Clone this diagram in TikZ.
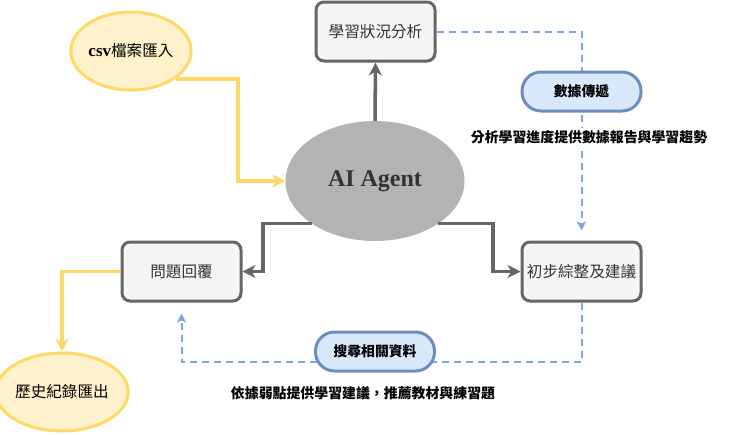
\documentclass[tikz,border=0pt]{standalone}
\usepackage{fontspec}
\setmainfont{Liberation Serif}
\newfontfamily\cjk{Noto Sans CJK TC}
\usetikzlibrary{shapes.geometric,arrows.meta,calc}
\definecolor{boxgray}{HTML}{666666}
\definecolor{boxfill}{HTML}{F5F5F5}
\definecolor{txtgray}{HTML}{333333}
\definecolor{yelline}{HTML}{FFD966}
\definecolor{yelfill}{HTML}{FFF2CC}
\definecolor{bluline}{HTML}{6C8EBF}
\definecolor{blufill}{HTML}{DAE8FC}
\definecolor{dashblue}{HTML}{7EA6E0}
\definecolor{aigray}{HTML}{B3B3B3}
\tikzset{
  graybox/.style={draw=boxgray, fill=boxfill, line width=3pt, rounded corners=8pt,
    minimum width=119pt, minimum height=59pt, inner sep=0pt, text=txtgray,
    font=\cjk\fontsize{15.6}{18}\selectfont},
  yelellipse/.style={ellipse, draw=yelline, fill=yelfill, line width=3pt, inner sep=0pt,
    minimum width=119pt, minimum height=78pt, font=\fontsize{15.6}{18}\selectfont},
  pill/.style={draw=bluline, fill=blufill, line width=3pt, rounded corners=19pt,
    minimum width=119pt, minimum height=39pt, inner sep=0pt,
    font=\cjk\bfseries\fontsize{13.8}{16}\selectfont},
  desc/.style={fill=white, inner sep=2pt, font=\cjk\bfseries\fontsize{13.9}{16}\selectfont},
  grayarrow/.style={draw=boxgray, line width=3.5pt, -{Stealth[length=13pt,width=13pt,inset=4pt]}},
  yelarrow/.style={draw=yelline, line width=3.5pt, -{Stealth[length=13pt,width=13pt,inset=4pt]}},
  dasharrow/.style={draw=dashblue, line width=2pt, dash pattern=on 7pt off 5pt,
    -{Stealth[length=9pt,width=9pt,inset=2pt]}},
}
\begin{document}
\begin{tikzpicture}[x=1pt,y=-1pt]
\useasboundingbox (0,0) rectangle (736,434);
% nodes
\node[yelellipse] (csv) at (131,51) {{\bfseries\fontsize{17}{18}\selectfont csv}{\cjk 檔案匯入}};
\node[ellipse, fill=aigray, minimum width=179pt, minimum height=120pt, inner sep=0pt,
  text=txtgray, font=\bfseries\fontsize{24}{28}\selectfont] (ai) at (375,181) {AI Agent};
\node[graybox] (top) at (375.5,31.5) {學習狀況分析};
\node[graybox] (init) at (581.5,271.5) {初步綜整及建議};
\node[graybox] (q) at (181.5,271.5) {問題回覆};
\node[yelellipse, font=\cjk\fontsize{15.6}{18}\selectfont] (hist) at (62,392) {歷史紀錄匯出};
\coordinate (jx1) at (238,0);
\coordinate (jx2) at (493,0);
\coordinate (jx3) at (263,0);
\coordinate (by) at (0,362);
% gray connectors
\draw[grayarrow] (ai.north) -- (top.south);
\draw[grayarrow] (ai.-34) -- (ai.-34 -| jx2) |- (init.west);
\draw[grayarrow] (ai.-146) -- (ai.-146 -| jx3) |- (q.east);
% yellow connectors
\draw[yelarrow] (csv.-32.5) -- (csv.-32.5 -| jx1) |- (ai.west);
\draw[yelarrow] (q.west) -| (hist.north);
% dashed connectors
\draw[dasharrow, shorten >=10pt] (top.east) -| (init.north);
\draw[dasharrow, shorten >=11pt] (init.south) -- (init.south |- by) -| (q.south);
% pills and descriptions
\node[pill] (p1) at (581.5,91.5) {數據傳遞};
\node[desc] (d1) at (589,137) {分析學習進度提供數據報告與學習趨勢};
\node[pill] (p2) at (375,351.5) {搜尋相關資料};
\node[desc] (d2) at (363,393) {依據弱點提供學習建議，推薦教材與練習題};
\end{tikzpicture}
\end{document}
